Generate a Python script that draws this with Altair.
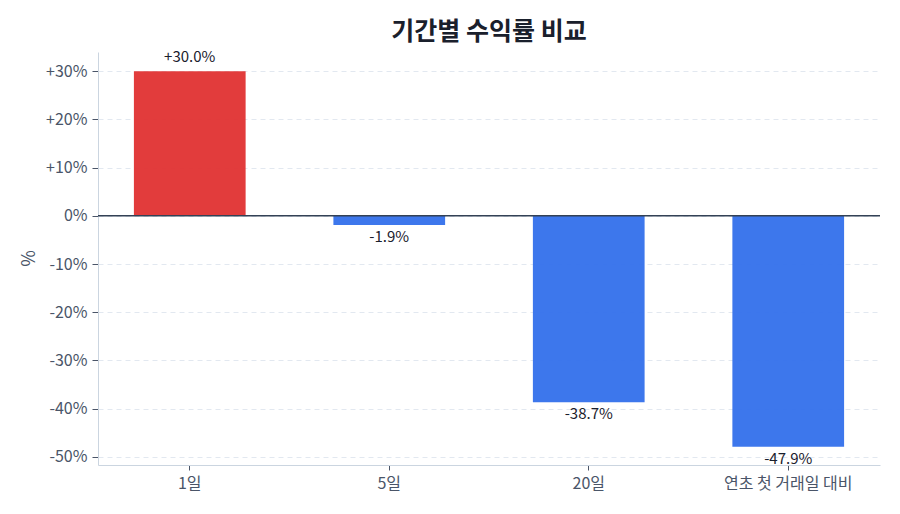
import altair as alt
import pandas as pd

periods = ["1일", "5일", "20일", "연초 첫 거래일 대비"]
returns = [30.0, -1.9, -38.7, -47.9]

df = pd.DataFrame({"기간": periods, "수익률": returns})
df["라벨"] = [("+" if v > 0 else "") + f"{v:.1f}%" for v in returns]
df["방향"] = ["상승" if v > 0 else "하락" for v in returns]

FONT = "Noto Sans CJK KR"

x_enc = alt.X(
    "기간:N", sort=periods, title=None,
    scale=alt.Scale(paddingInner=0.44, paddingOuter=0.18),
    axis=alt.Axis(labelAngle=0, labelFontSize=16, labelColor="#4a5568", labelPadding=5,
                  tickColor="#4a5568", tickSize=5, domainColor="#cbd5e0", grid=False),
)
y_scale = alt.Scale(domain=[-51.7, 34.0], nice=False)

bars = alt.Chart(df).mark_bar(opacity=0.95).encode(
    x=x_enc,
    y=alt.Y(
        "수익률:Q", title="%", scale=y_scale,
        axis=alt.Axis(values=[-50, -40, -30, -20, -10, 0, 10, 20, 30],
                      labelExpr="datum.value > 0 ? '+' + datum.value + '%' : datum.value + '%'",
                      labelFontSize=16, labelColor="#4a5568", labelPadding=5,
                      tickColor="#4a5568", tickSize=6,
                      domainColor="#cbd5e0", gridColor="#e2e8f0", gridDash=[5, 4],
                      titleFontSize=18, titleColor="#4a5568", titleFontWeight="normal",
                      titleX=-60, titleY=206),
    ),
    color=alt.Color("방향:N", scale=alt.Scale(domain=["상승", "하락"], range=["#e03131", "#3370eb"]),
                    legend=None),
)

pos_labels = alt.Chart(df).transform_filter("datum['수익률'] > 0").mark_text(
    baseline="bottom", dy=-6, fontSize=15, color="#1a202c", font=FONT
).encode(x=alt.X("기간:N", sort=periods), y=alt.Y("수익률:Q", scale=y_scale), text="라벨:N")

neg_labels = alt.Chart(df).transform_filter("datum['수익률'] < 0").mark_text(
    baseline="top", dy=5, fontSize=15, color="#1a202c", font=FONT
).encode(x=alt.X("기간:N", sort=periods), y=alt.Y("수익률:Q", scale=y_scale), text="라벨:N")

zero = alt.Chart(pd.DataFrame({"y": [0]})).mark_rule(color="#334155", strokeWidth=1.5).encode(
    y=alt.Y("y:Q", scale=y_scale)
)

chart = alt.layer(bars, zero, pos_labels, neg_labels).properties(
    width=782, height=413,
    autosize=alt.AutoSizeParams(type="none"),
    padding={"left": 90, "top": 44, "right": 10, "bottom": 40},
    title=alt.TitleParams("기간별 수익률 비교", fontSize=25, fontWeight="bold", color="#1a202c",
                          font=FONT, anchor="middle", offset=5),
).configure(font=FONT).configure_view(stroke=None)

chart.save("out.html", embed_options={"renderer": "svg", "actions": False})
